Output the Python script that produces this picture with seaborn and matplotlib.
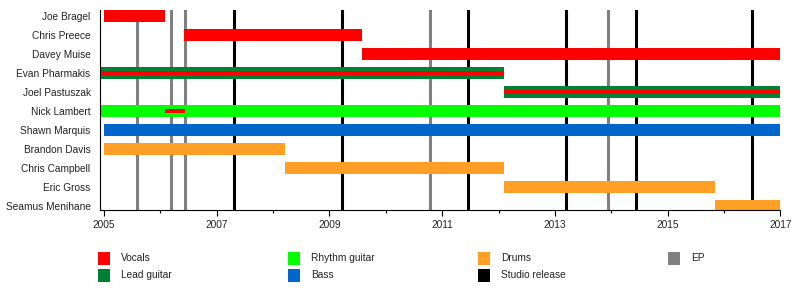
import matplotlib
matplotlib.use("Agg")
import matplotlib.pyplot as plt
from matplotlib.patches import Rectangle
from matplotlib.ticker import FixedLocator
import seaborn as sns
import pandas as pd

# ---------------- data ----------------
members = ["Joe Bragel", "Chris Preece", "Davey Muise", "Evan Pharmakis",
           "Joel Pastuszak", "Nick Lambert", "Shawn Marquis", "Brandon Davis",
           "Chris Campbell", "Eric Gross", "Seamus Menihane"]

bar_member = ["Joe Bragel", "Chris Preece", "Davey Muise", "Evan Pharmakis",
              "Joel Pastuszak", "Nick Lambert", "Shawn Marquis", "Brandon Davis",
              "Chris Campbell", "Eric Gross", "Seamus Menihane"]
bar_start = [2005.0, 2006.42, 2009.57, 2004.5, 2012.09, 2004.5, 2005.0, 2005.0,
             2008.22, 2012.09, 2015.85]
bar_end = [2006.09, 2009.57, 2017.0, 2012.09, 2017.0, 2017.0, 2017.0, 2008.22,
           2012.09, 2015.85, 2017.0]
bar_role = ["Vocals", "Vocals", "Vocals", "Lead guitar", "Lead guitar",
            "Rhythm guitar", "Bass", "Drums", "Drums", "Drums", "Drums"]

stripe_member = ["Evan Pharmakis", "Joel Pastuszak", "Nick Lambert"]
stripe_start = [2004.5, 2012.09, 2006.09]
stripe_end = [2012.09, 2017.0, 2006.44]
stripe_role = ["Vocals", "Vocals", "Vocals"]

ep_dates = [2005.59, 2006.19, 2006.44, 2010.78, 2013.95]
studio_dates = [2007.31, 2009.23, 2011.46, 2013.20, 2014.44, 2016.50]

year_ticks = list(range(2005, 2018))

legend_labels = ["Vocals", "Lead guitar", "Rhythm guitar", "Bass", "Drums",
                 "Studio release", "EP"]
role_colors = {"Vocals": "#ff0000", "Lead guitar": "#008033",
               "Rhythm guitar": "#00ff00", "Bass": "#0066cc",
               "Drums": "#ff9f26", "Studio release": "#000000", "EP": "#808080"}

# ---------------- style ----------------
FS = 7.3
sns.set_theme(style="white")
plt.rcParams["font.family"] = ["Liberation Sans", "DejaVu Sans"]
plt.rcParams["font.size"] = FS

W, H = 800, 290
fig = plt.figure(figsize=(W / 100, H / 100), dpi=100)
ax = fig.add_axes([100.3 / W, (H - 210) / H, 680 / W, 200 / H])

row = {m: i for i, m in enumerate(members)}

bars = pd.DataFrame({"member": bar_member, "start": bar_start,
                     "end": bar_end, "role": bar_role})
stripes = pd.DataFrame({"member": stripe_member, "start": stripe_start,
                        "end": stripe_end, "role": stripe_role})

# release lines (behind bars)
for d in ep_dates:
    ax.axvline(d, color=role_colors["EP"], lw=2.2, zorder=1)
for d in studio_dates:
    ax.axvline(d, color=role_colors["Studio release"], lw=2.2, zorder=1)

ax.barh([row[m] for m in bars["member"]], bars["end"] - bars["start"],
        left=bars["start"], height=12 / 19,
        color=[role_colors[r] for r in bars["role"]], zorder=2, linewidth=0)
ax.barh([row[m] for m in stripes["member"]], stripes["end"] - stripes["start"],
        left=stripes["start"], height=4 / 19,
        color=[role_colors[r] for r in stripes["role"]], zorder=3, linewidth=0)

ax.set_xlim(2005 - 3.7 / 56.36, 2017)
ax.set_ylim(10.21, -0.316)
ax.set_yticks(range(len(members)))
ax.set_yticklabels(members)
ax.tick_params(axis="y", length=0, pad=7, labelsize=FS, colors="#222222")

ax.xaxis.set_major_locator(FixedLocator([y for y in year_ticks if y % 2 == 1]))
ax.xaxis.set_minor_locator(FixedLocator([y for y in year_ticks if y % 2 == 0]))
ax.set_xticklabels([str(y) for y in year_ticks if y % 2 == 1])
ax.tick_params(axis="x", which="major", length=4, width=0.8, bottom=True,
               direction="out", labelsize=FS, colors="#222222", pad=3)
ax.tick_params(axis="x", which="minor", length=2.2, width=0.8, bottom=True,
               direction="out")
ax.tick_params(axis="x", which="both", color="black")

sns.despine(ax=ax, top=True, right=True)
for s in ("left", "bottom"):
    ax.spines[s].set_color("black")
    ax.spines[s].set_linewidth(0.8)
    ax.spines[s].set_zorder(5)

# ---------------- legend ----------------
col_x = [98.3, 288.3, 478.3, 668.3]
row_y = [258.3, 275.5]
for i, lab in enumerate(legend_labels):
    c, r = divmod(i, 2)
    x0 = col_x[c]
    yc = row_y[r]
    fig.add_artist(Rectangle((x0 / W, (H - yc - 6.2) / H), 12 / W, 12.4 / H,
                             transform=fig.transFigure, color=role_colors[lab],
                             linewidth=0))
    fig.text((x0 + 22.4) / W, (H - yc) / H, lab, ha="left", va="center",
             fontsize=FS, color="#222222")

fig.savefig("out.png", dpi=100)
